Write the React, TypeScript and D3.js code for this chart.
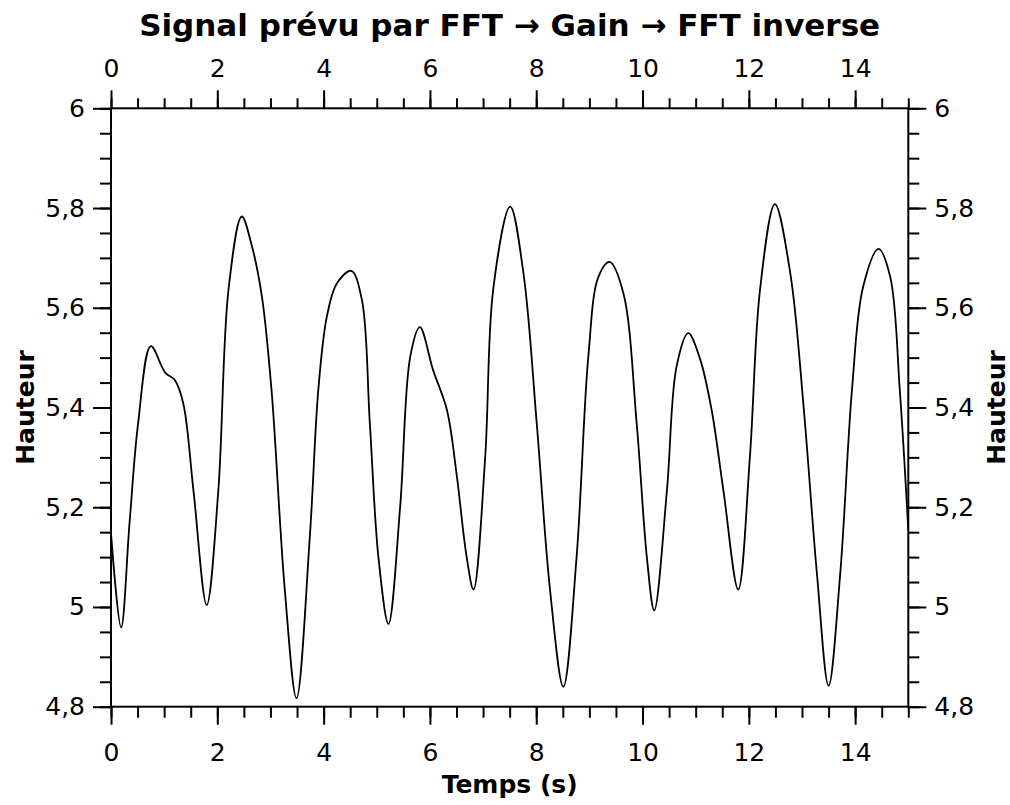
import { useRef, useEffect } from 'react';
import * as d3 from 'd3';

const times = [
  0, 0.19, 0.35, 0.51, 0.75, 1.02, 1.2, 1.36, 1.55, 1.8, 2.02, 2.21, 2.46, 2.65, 2.84,
  3.02, 3.27, 3.49, 3.74, 3.9, 4.06, 4.25, 4.52, 4.72, 4.87, 5.03, 5.22, 5.44, 5.63, 5.81,
  6.06, 6.32, 6.5, 6.69, 6.82, 7.04, 7.19, 7.51, 7.76, 8.01, 8.26, 8.51, 8.76, 8.98, 9.17,
  9.38, 9.64, 9.89, 10.08, 10.22, 10.46, 10.64, 10.86, 11.08, 11.3, 11.52, 11.8, 12.02, 12.21, 12.49,
  12.78, 13.03, 13.28, 13.5, 13.72, 13.94, 14.15, 14.44, 14.66, 14.84, 15,
];
const heights = [
  5.148, 4.959, 5.17, 5.368, 5.523, 5.47, 5.455, 5.408, 5.235, 5.004, 5.235, 5.636, 5.783, 5.724, 5.622,
  5.435, 5.034, 4.817, 5.14, 5.435, 5.582, 5.649, 5.674, 5.616, 5.368, 5.101, 4.966, 5.201, 5.502, 5.561,
  5.475, 5.395, 5.268, 5.101, 5.035, 5.301, 5.636, 5.803, 5.669, 5.368, 5.034, 4.84, 5.101, 5.502, 5.662,
  5.692, 5.629, 5.368, 5.101, 4.993, 5.235, 5.482, 5.549, 5.498, 5.395, 5.235, 5.035, 5.301, 5.636, 5.808,
  5.669, 5.402, 5.068, 4.842, 5.068, 5.435, 5.642, 5.718, 5.662, 5.435, 5.154,
];

const xMajor = [0, 2, 4, 6, 8, 10, 12, 14];
const xMinor = d3.range(0, 31).map((i) => i * 0.5);
const yMajor = [4.8, 5, 5.2, 5.4, 5.6, 5.8, 6];
const yMinor = d3.range(0, 25).map((i) => 4.8 + i * 0.05);

const title = 'Signal prévu par FFT → Gain → FFT inverse';
const xLabel = 'Temps (s)';
const yLabel = 'Hauteur';

const W = 1010;
const H = 805;
const FONT = '"DejaVu Sans", sans-serif';

function fmt(v: number): string {
  return String(+v.toFixed(2)).replace('.', ',');
}

export default function App() {
  const svgRef = useRef<SVGSVGElement>(null);

  useEffect(() => {
    if (!svgRef.current) return;
    const svg = d3.select(svgRef.current);
    svg.selectAll('*').remove();

    const left = 111, right = 908.3, top = 108.3, bottom = 706.7;
    const x = d3.scaleLinear().domain([0, 15]).range([left, right]);
    const y = d3.scaleLinear().domain([4.8, 6]).range([bottom, top]);

    const styleAxis = (g: d3.Selection<SVGGElement, unknown, null, undefined>) => {
      g.select('.domain').remove();
      g.selectAll('line').attr('stroke', '#000').attr('stroke-width', 2);
      g.selectAll('text')
        .attr('fill', '#000')
        .attr('font-size', 25)
        .attr('font-family', FONT);
    };

    // minor ticks
    svg.append('g').attr('transform', `translate(0,${bottom})`)
      .call(d3.axisBottom(x).tickValues(xMinor).tickSize(11).tickFormat(() => ''))
      .call(styleAxis);
    svg.append('g').attr('transform', `translate(0,${top})`)
      .call(d3.axisTop(x).tickValues(xMinor).tickSize(10).tickFormat(() => ''))
      .call(styleAxis);
    svg.append('g').attr('transform', `translate(${left},0)`)
      .call(d3.axisLeft(y).tickValues(yMinor).tickSize(11).tickFormat(() => ''))
      .call(styleAxis);
    svg.append('g').attr('transform', `translate(${right},0)`)
      .call(d3.axisRight(y).tickValues(yMinor).tickSize(11).tickFormat(() => ''))
      .call(styleAxis);

    // major ticks + labels
    svg.append('g').attr('transform', `translate(0,${bottom})`)
      .call(d3.axisBottom(x).tickValues(xMajor).tickSize(18).tickPadding(19).tickFormat((d) => fmt(d as number)))
      .call(styleAxis);
    svg.append('g').attr('transform', `translate(0,${top})`)
      .call(d3.axisTop(x).tickValues(xMajor).tickSize(18).tickPadding(13).tickFormat((d) => fmt(d as number)))
      .call(styleAxis);
    svg.append('g').attr('transform', `translate(${left},0)`)
      .call(d3.axisLeft(y).tickValues(yMajor).tickSize(18).tickPadding(8).tickFormat((d) => fmt(d as number)))
      .call(styleAxis);
    svg.append('g').attr('transform', `translate(${right},0)`)
      .call(d3.axisRight(y).tickValues(yMajor).tickSize(18).tickPadding(8).tickFormat((d) => fmt(d as number)))
      .call(styleAxis);

    // frame
    svg.append('rect')
      .attr('x', left).attr('y', top)
      .attr('width', right - left).attr('height', bottom - top)
      .attr('fill', 'none').attr('stroke', '#000').attr('stroke-width', 2);

    // signal
    svg.append('clipPath').attr('id', 'plot-clip')
      .append('rect').attr('x', left).attr('y', top)
      .attr('width', right - left).attr('height', bottom - top);

    const pts: [number, number][] = times.map((t, i) => [t, heights[i]]);
    const line = d3.line<[number, number]>()
      .x((d) => x(d[0]))
      .y((d) => y(d[1]))
      .curve(d3.curveCatmullRom.alpha(0.5));
    svg.append('path')
      .datum(pts)
      .attr('clip-path', 'url(#plot-clip)')
      .attr('d', line)
      .attr('fill', 'none')
      .attr('stroke', '#000')
      .attr('stroke-width', 1.8);

    // titles
    svg.append('text')
      .attr('x', (left + right) / 2).attr('y', 36)
      .attr('text-anchor', 'middle')
      .attr('font-family', FONT).attr('font-weight', 'bold').attr('font-size', 31)
      .text(title);
    svg.append('text')
      .attr('x', (left + right) / 2).attr('y', 793)
      .attr('text-anchor', 'middle')
      .attr('font-family', FONT).attr('font-weight', 'bold').attr('font-size', 25)
      .text(xLabel);
    const midY = (top + bottom) / 2;
    svg.append('text')
      .attr('transform', `translate(34,${midY}) rotate(-90)`)
      .attr('text-anchor', 'middle')
      .attr('font-family', FONT).attr('font-weight', 'bold').attr('font-size', 25)
      .text(yLabel);
    svg.append('text')
      .attr('transform', `translate(1005,${midY}) rotate(-90)`)
      .attr('text-anchor', 'middle')
      .attr('font-family', FONT).attr('font-weight', 'bold').attr('font-size', 25)
      .text(yLabel);
  }, []);

  return (
    <svg
      ref={svgRef}
      width={W}
      height={H}
      style={{ position: 'absolute', left: 0, top: 0, background: '#fff' }}
    />
  );
}
